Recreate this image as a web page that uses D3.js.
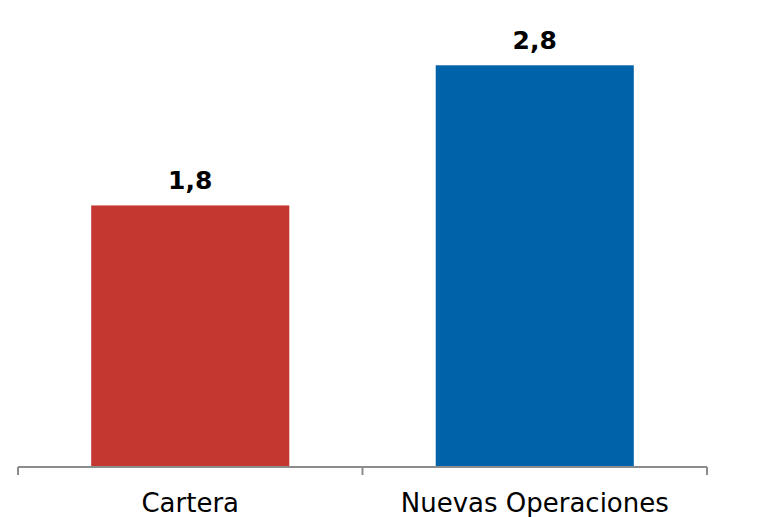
<!DOCTYPE html>
<html lang="es">
<head>
	<meta charset="UTF-8">
	<title>Cartera vs Nuevas Operaciones</title>
	<script src="https://cdn.jsdelivr.net/npm/d3@7"></script>
	<style>
		body {
			margin: 0;
			background-color: #ffffff;
		}
		.axisX path, .axisX line {
			stroke: #8c8c8c;
			stroke-width: 2px;
		}
		.axisX text {
			font-family: "DejaVu Sans", Verdana, sans-serif;
			font-size: 26px;
			fill: #000000;
		}
		.valueLabel {
			font-family: "DejaVu Sans", Verdana, sans-serif;
			font-size: 25px;
			font-weight: bold;
			fill: #000000;
		}
	</style>
</head>
<body>
<script>

	// data
	var categories = ['Cartera', 'Nuevas Operaciones'];
	var values = [1.81, 2.78];
	var labels = ['1,8', '2,8'];
	var colors = ['#c43731', '#0062a8'];

	var width = 774, height = 517;
	var axisY = 467;

	var svg = d3.select('body').append('svg')
		.attr('width', width)
		.attr('height', height);

	var x = d3.scaleBand()
		.domain(categories)
		.range([18, 707])
		.paddingInner(0.425)
		.paddingOuter(0.2125);

	var y = d3.scaleLinear()
		.domain([0, 3])
		.range([axisY, axisY - 3 * 144.5]);

	svg.selectAll('.bar')
		.data(categories)
		.enter()
		.append('rect')
		.attr('class', 'bar')
		.attr('x', function (d) { return x(d); })
		.attr('width', x.bandwidth())
		.attr('y', function (d, i) { return y(values[i]); })
		.attr('height', function (d, i) { return y(0) - y(values[i]); })
		.style('fill', function (d, i) { return colors[i]; });

	svg.selectAll('.valueLabel')
		.data(categories)
		.enter()
		.append('text')
		.attr('class', 'valueLabel')
		.attr('x', function (d) { return x(d) + x.bandwidth() / 2; })
		.attr('y', function (d, i) { return y(values[i]) - 16; })
		.attr('text-anchor', 'middle')
		.text(function (d, i) { return labels[i]; });

	// axis with ticks at band edges, like the original category axis
	var axis = svg.append('g')
		.attr('class', 'axisX')
		.attr('transform', 'translate(0,' + axisY + ')');

	var edges = [x.range()[0]].concat(categories.map(function (d) {
		return x(d) + x.bandwidth() + x.step() * x.paddingInner() / 2;
	}));
	edges[edges.length - 1] = x.range()[1];

	axis.append('line')
		.attr('x1', x.range()[0])
		.attr('x2', x.range()[1])
		.attr('y1', 0)
		.attr('y2', 0);

	axis.selectAll('.tick')
		.data(edges)
		.enter()
		.append('line')
		.attr('class', 'tick')
		.attr('x1', function (d) { return d; })
		.attr('x2', function (d) { return d; })
		.attr('y1', 0)
		.attr('y2', 8);

	axis.selectAll('.catLabel')
		.data(categories)
		.enter()
		.append('text')
		.attr('class', 'catLabel')
		.attr('x', function (d) { return x(d) + x.bandwidth() / 2; })
		.attr('y', 45)
		.attr('text-anchor', 'middle')
		.text(function (d) { return d; });

</script>
</body>
</html>
